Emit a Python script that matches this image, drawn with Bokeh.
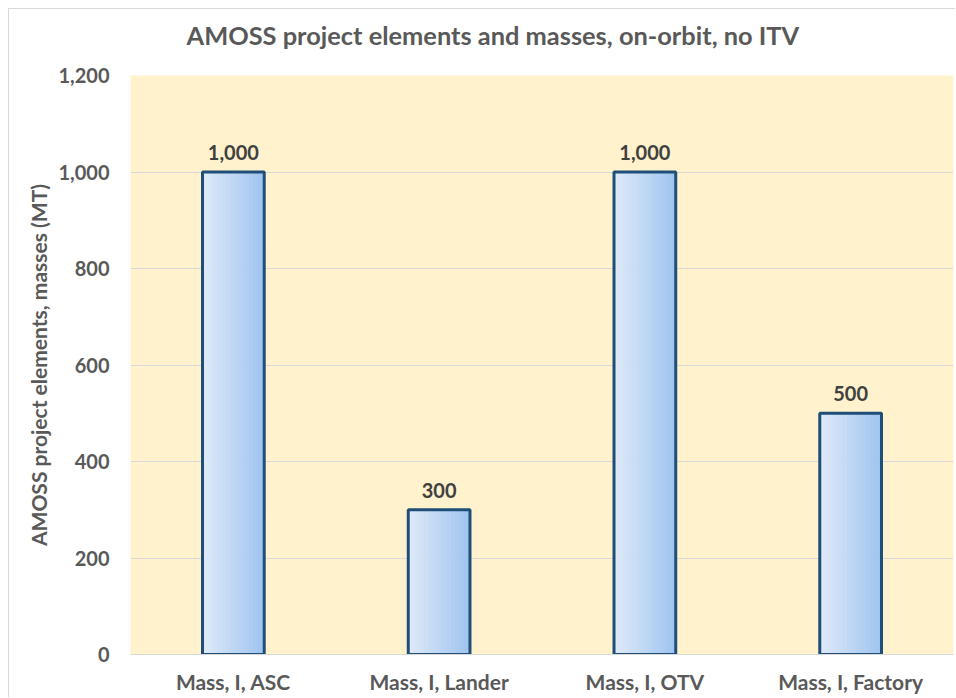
from bokeh.plotting import figure
from bokeh.models import FactorRange, Title, SingleIntervalTicker, NumeralTickFormatter, ColumnDataSource
from bokeh.transform import dodge
from bokeh.core.properties import value
from bokeh.embed import file_html
from bokeh.resources import INLINE

title_text = "AMOSS project elements and masses, on-orbit, no ITV"
y_label = "AMOSS project elements, masses (MT)"
categories = ["Mass, I, ASC", "Mass, I, Lander", "Mass, I, OTV", "Mass, I, Factory"]
masses = [1000, 300, 1000, 500]
value_labels = ["1,000", "300", "1,000", "500"]

FONT = "Lato"
TXT = "#595959"

src = ColumnDataSource(dict(cat=categories, val=masses, lab=value_labels))

W, H = 947, 689
ML, MR, MT, MB = 121, 3, 66, 44
p = figure(width=W, height=H, x_range=FactorRange(*categories, range_padding=0),
           y_range=(0, 1200), output_backend="svg", toolbar_location=None,
           min_border_left=ML, min_border_right=MR, min_border_top=MT, min_border_bottom=MB)
p.styles = {"border-left": "1px solid #d9d9d9", "border-top": "1px solid #d9d9d9",
            "margin-left": "8px", "margin-top": "8px"}
p.border_fill_color = "white"
p.outline_line_color = None
p.background_fill_color = "#fff2cc"

p.title = None
# spacer (closest to the frame), then the chart title above it
p.add_layout(Title(text=" ", text_font_size="10px", standoff=8), "above")
p.add_layout(Title(text=title_text, align="left", offset=56, text_font=FONT,
                   text_font_style="bold", text_font_size="25.4px", text_color=TXT,
                   standoff=10), "above")

p.yaxis.ticker = SingleIntervalTicker(interval=200)
p.yaxis.formatter = NumeralTickFormatter(format="0,0")
p.yaxis.axis_line_color = None
p.yaxis.major_tick_line_color = None
p.yaxis.minor_tick_line_color = None
p.yaxis.major_label_text_font = FONT
p.yaxis.major_label_text_font_style = "bold"
p.yaxis.major_label_text_font_size = "20px"
p.yaxis.major_label_text_color = TXT
p.yaxis.major_label_standoff = 15
p.yaxis.axis_label = y_label
p.yaxis.axis_label_text_font = FONT
p.yaxis.axis_label_text_font_style = "bold"
p.yaxis.axis_label_text_font_size = "21px"
p.yaxis.axis_label_text_color = TXT
p.yaxis.axis_label_standoff = 4

p.xaxis.axis_line_color = "#d9d9d9"
p.xaxis.major_tick_line_color = None
p.xaxis.minor_tick_line_color = None
p.xaxis.major_label_text_font = FONT
p.xaxis.major_label_text_font_style = "bold"
p.xaxis.major_label_text_font_size = "21px"
p.xaxis.major_label_text_color = TXT
p.xaxis.major_label_standoff = 8

p.xgrid.grid_line_color = None
p.ygrid.grid_line_color = "#d9d9d9"
p.ygrid.grid_line_width = 1

# gradient bars (strips across the bar width)
BW = 0.30
N = 16
c0 = (0xdd, 0xe9, 0xf8)
c1 = (0xa0, 0xc5, 0xf1)
for k in range(N):
    t = k / (N - 1)
    col = "#%02x%02x%02x" % tuple(int(round(a + (b - a) * t)) for a, b in zip(c0, c1))
    off = -BW / 2 + (k + 0.5) * BW / N
    p.vbar(x=dodge("cat", off, range=p.x_range), top="val", bottom=0, width=BW / N,
           source=src, fill_color=col, line_color=col, line_width=0.6)

p.vbar(x="cat", top="val", bottom=0, width=BW, source=src, fill_color=None,
       line_color="#1f4e79", line_width=3)

p.text(x="cat", y="val", text="lab", source=src, text_align="center", text_baseline="bottom",
       y_offset=-12, text_font=value(FONT), text_font_style="bold", text_font_size="20px",
       text_color="#404040")

open("out.html", "w").write(file_html(p, INLINE))
